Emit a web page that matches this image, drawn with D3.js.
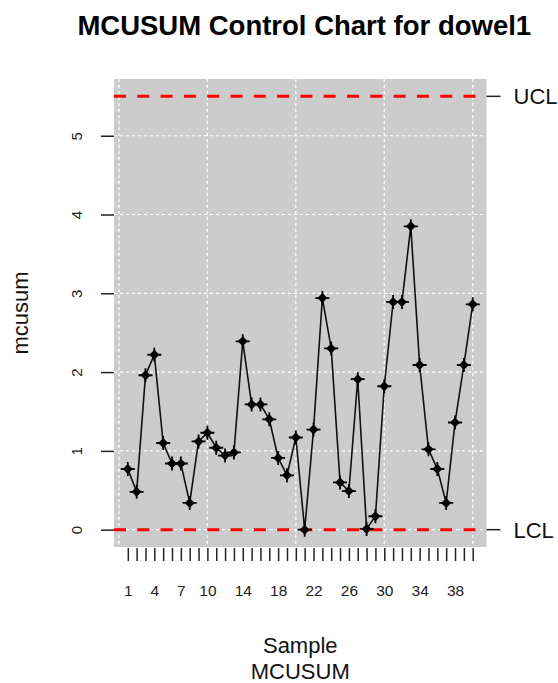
<!DOCTYPE html>
<html>
<head>
<meta charset="utf-8">
<script src="https://cdn.jsdelivr.net/npm/d3@7"></script>
<style>
  body { margin: 0; background: #fff; }
  svg { font-family: "Liberation Sans", Arial, sans-serif; }
</style>
</head>
<body>
<div id="chart"></div>
<script>
// mcusum statistic per sample
const mcusum = [
  0.77, 0.48, 1.96, 2.22, 1.10, 0.84, 0.84, 0.34, 1.12, 1.23,
  1.04, 0.94, 0.98, 2.39, 1.59, 1.59, 1.40, 0.91, 0.69, 1.17,
  0.00, 1.27, 2.94, 2.30, 0.60, 0.49, 1.91, 0.01, 0.17, 1.82,
  2.89, 2.89, 3.85, 2.09, 1.02, 0.77, 0.34, 1.36, 2.09, 2.86
];
const samples = mcusum.map((d, i) => i + 1);
const xTickLabels = [1, 4, 7, 10, 14, 18, 22, 26, 30, 34, 38];
const yTicks = [0, 1, 2, 3, 4, 5];
const xGrid = [0, 10, 20, 30, 40];
const limits = [{name: 'UCL', value: 5.5}, {name: 'LCL', value: 0}];

const width = 558, height = 683;
const panel = {left: 114, right: 486.5, top: 79, bottom: 547};

// R style 4% padding around the data range
const x = d3.scaleLinear().domain([-0.56, 41.56]).range([panel.left, panel.right]);
const y = d3.scaleLinear().domain([-0.22, 5.72]).range([panel.bottom, panel.top]);

const svg = d3.select('#chart')
  .append('svg')
  .attr('width', width)
  .attr('height', height);

// background panel
svg.append('rect')
  .attr('x', panel.left)
  .attr('y', panel.top)
  .attr('width', panel.right - panel.left)
  .attr('height', panel.bottom - panel.top)
  .attr('fill', '#cccccc');

// grid
const grid = svg.append('g')
  .attr('stroke', '#ffffff')
  .attr('stroke-width', 1.2)
  .attr('stroke-dasharray', '3,3');
grid.selectAll('.h')
  .data(yTicks)
  .join('line')
  .attr('x1', panel.left).attr('x2', panel.right)
  .attr('y1', d => y(d)).attr('y2', d => y(d));
grid.selectAll('.v')
  .data(xGrid)
  .join('line')
  .attr('x1', d => x(d)).attr('x2', d => x(d))
  .attr('y1', panel.top).attr('y2', panel.bottom);

// control limits
svg.append('g')
  .selectAll('line')
  .data(limits)
  .join('line')
  .attr('x1', panel.left).attr('x2', panel.right)
  .attr('y1', d => y(d.value)).attr('y2', d => y(d.value))
  .attr('stroke', '#ff0000')
  .attr('stroke-width', 3)
  .attr('stroke-dasharray', '12,11.3');

// series line
const line = d3.line()
  .x((d, i) => x(samples[i]))
  .y(d => y(d));
svg.append('path')
  .datum(mcusum)
  .attr('d', line)
  .attr('fill', 'none')
  .attr('stroke', '#111')
  .attr('stroke-width', 1.6);

// markers: filled diamond with a cross
const pts = svg.append('g')
  .selectAll('g')
  .data(mcusum)
  .join('g')
  .attr('transform', (d, i) => `translate(${x(samples[i])},${y(d)})`);
pts.append('path')
  .attr('d', 'M0,-5L5,0L0,5L-5,0Z')
  .attr('fill', '#000');
pts.append('path')
  .attr('d', 'M-7,0H7M0,-7V7')
  .attr('stroke', '#000')
  .attr('stroke-width', 1.8);

// left axis
const yAxis = d3.axisLeft(y).tickValues(yTicks).tickSize(13).tickFormat(d3.format('d'));
const gy = svg.append('g')
  .attr('transform', `translate(${panel.left},0)`)
  .call(yAxis);
gy.select('.domain').remove();
gy.selectAll('line').attr('stroke', '#222').attr('stroke-width', 1.5);
gy.selectAll('text')
  .attr('font-size', 15)
  .attr('fill', '#222')
  .attr('x', 0).attr('y', 0).attr('dy', 0)
  .attr('text-anchor', 'middle')
  .attr('transform', 'translate(-32,0) rotate(-90)');

// bottom axis: a tick for every sample, labels where R keeps them
const xAxis = d3.axisBottom(x).tickValues(samples).tickSize(13)
  .tickFormat(d => xTickLabels.includes(d) ? d : '');
const gx = svg.append('g')
  .attr('transform', `translate(0,${panel.bottom + 1})`)
  .call(xAxis);
gx.select('.domain').remove();
gx.selectAll('line').attr('stroke', '#222').attr('stroke-width', 1.5);
gx.selectAll('text')
  .attr('font-size', 15.5)
  .attr('fill', '#222')
  .attr('y', 48).attr('dy', 0);

// right limit ticks and labels
const gr = svg.append('g').selectAll('g')
  .data(limits)
  .join('g')
  .attr('transform', d => `translate(${panel.right},${y(d.value)})`);
gr.append('line')
  .attr('x1', 0).attr('x2', 14)
  .attr('stroke', '#222').attr('stroke-width', 1.5);
gr.append('text')
  .attr('x', 27).attr('dy', '0.36em')
  .attr('font-size', 22)
  .attr('fill', '#111')
  .text(d => d.name);

// titles
svg.append('text')
  .attr('x', (panel.left + panel.right) / 2 + 4)
  .attr('y', 35)
  .attr('text-anchor', 'middle')
  .attr('font-size', 27.5)
  .attr('font-weight', 'bold')
  .attr('fill', '#000')
  .text('MCUSUM Control Chart for dowel1');

svg.append('text')
  .attr('x', (panel.left + panel.right) / 2)
  .attr('y', 653)
  .attr('text-anchor', 'middle')
  .attr('font-size', 22)
  .attr('fill', '#111')
  .text('Sample');
svg.append('text')
  .attr('x', (panel.left + panel.right) / 2)
  .attr('y', 679)
  .attr('text-anchor', 'middle')
  .attr('font-size', 22)
  .attr('fill', '#111')
  .text('MCUSUM');

svg.append('text')
  .attr('transform', `translate(28,${(panel.top + panel.bottom) / 2}) rotate(-90)`)
  .attr('text-anchor', 'middle')
  .attr('font-size', 22)
  .attr('fill', '#111')
  .text('mcusum');
</script>
</body>
</html>
